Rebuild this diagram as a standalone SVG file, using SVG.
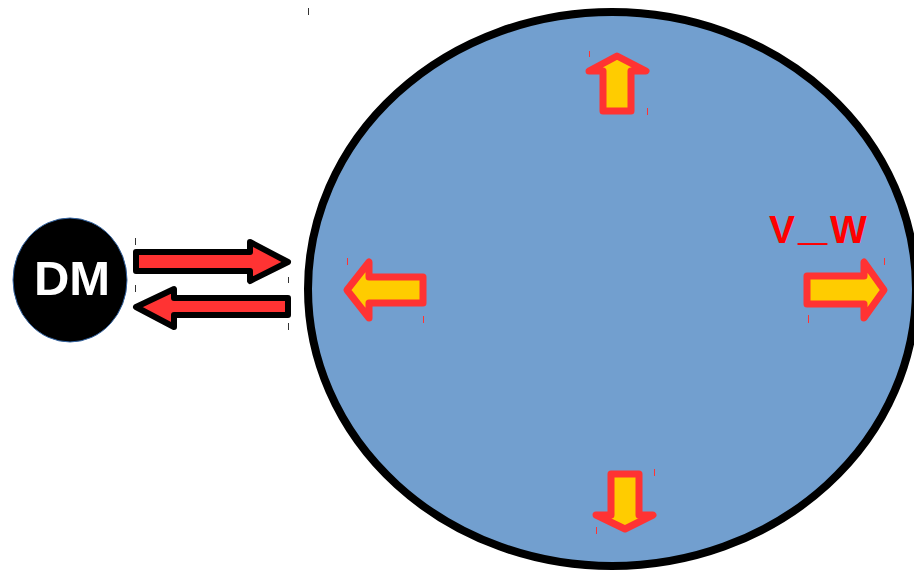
<svg xmlns="http://www.w3.org/2000/svg" width="914" height="571" viewBox="0 0 914 571">
<style>
.dm-arrow{fill:#ff3333;stroke:#000;stroke-width:6;stroke-linejoin:round}
.in-arrow{fill:#ffcc00;stroke:#ff3333;stroke-width:7;stroke-linejoin:round}
.tick{stroke:#333;stroke-width:1}
.rtick{stroke:#ff3333;stroke-width:1}
</style>
<rect width="914" height="571" fill="#fff"/>
<g id="world">
<ellipse cx="612" cy="289" rx="304" ry="277" fill="#729fcf" stroke="#000" stroke-width="8"/>
<g id="arrow-up"><polygon class="in-arrow" points="617,56 646,71 631,71 631,111 603,111 603,71 589,71"/></g>
<g id="arrow-left"><polygon class="in-arrow" points="347,290 369,262 369,277 423,277 423,303 369,303 369,318"/></g>
<g id="arrow-right"><polygon class="in-arrow" points="884,290 864,262 864,276 807,276 807,304 864,304 864,318"/></g>
<g id="arrow-down"><polygon class="in-arrow" points="625,529 653,515 639,515 639,474 611,474 611,515 596,515"/></g>
<g id="label-vw"><text x="769" y="243" font-family="'Liberation Sans', Arial, sans-serif" font-weight="bold" font-size="39" fill="#ff0000">V<tspan x="798" dy="-4" font-size="52">_</tspan><tspan x="830" dy="4">W</tspan></text></g>
</g>
<g id="dm">
<ellipse cx="70" cy="280" rx="57" ry="62" fill="#000" stroke="#3465a4" stroke-width="1"/>
<text x="72" y="295" text-anchor="middle" font-family="'Liberation Sans', Arial, sans-serif" font-weight="bold" font-size="49" fill="#fff">DM</text>
</g>
<g id="connectors">
<polygon class="dm-arrow" points="136,252 250,252 250,242 288,262 250,281 250,271 136,271"/>
<polygon class="dm-arrow" points="136,307 174,289 174,298 288,298 288,315 174,315 174,327"/>
</g>
<g id="marks">
<line class="tick" x1="308.5" y1="8" x2="308.5" y2="15"/>
<line class="tick" x1="135.5" y1="238" x2="135.5" y2="245"/>
<line class="tick" x1="135.5" y1="285" x2="135.5" y2="292"/>
<line class="tick" x1="288.5" y1="277" x2="288.5" y2="283"/>
<line class="tick" x1="288.5" y1="323" x2="288.5" y2="330"/>
<line class="rtick" x1="589.5" y1="51" x2="589.5" y2="57"/>
<line class="rtick" x1="647.5" y1="108" x2="647.5" y2="115"/>
<line class="rtick" x1="347.5" y1="258" x2="347.5" y2="265"/>
<line class="rtick" x1="423.5" y1="316" x2="423.5" y2="323"/>
<line class="rtick" x1="884.5" y1="258" x2="884.5" y2="265"/>
<line class="rtick" x1="808.5" y1="315" x2="808.5" y2="323"/>
<line class="rtick" x1="654.5" y1="469" x2="654.5" y2="476"/>
<line class="rtick" x1="596.5" y1="527" x2="596.5" y2="534"/>
</g>
</svg>
